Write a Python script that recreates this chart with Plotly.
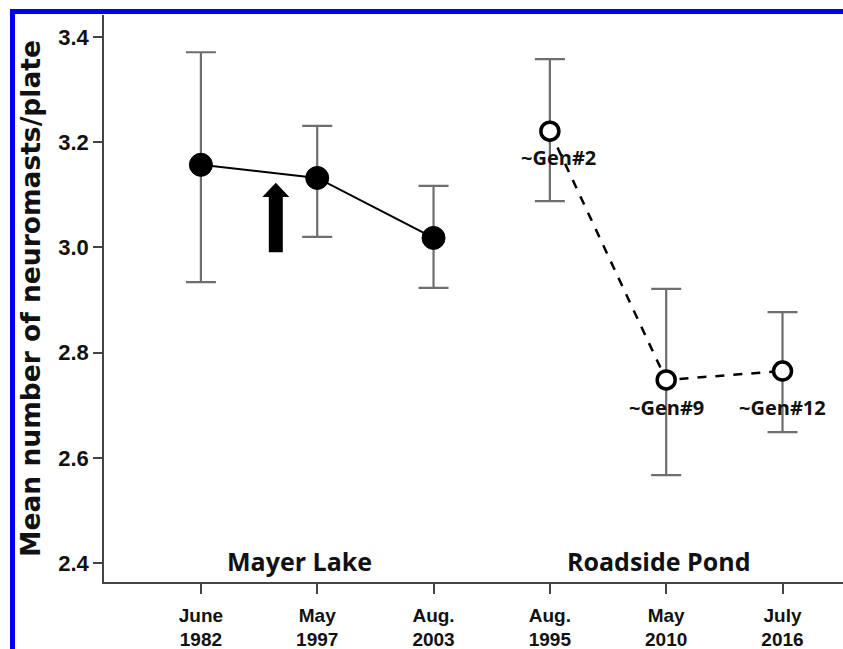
import plotly.graph_objects as go

# ---- data ----
tick_labels = ["June<br>1982", "May<br>1997", "Aug.<br>2003", "Aug.<br>1995", "May<br>2010", "July<br>2016"]
mayer_x = [0, 1, 2]
mayer_mean = [3.157, 3.132, 3.018]
mayer_upper = [3.371, 3.231, 3.117]
mayer_lower = [2.934, 3.020, 2.923]

pond_x = [3, 4, 5]
pond_mean = [3.221, 2.748, 2.765]
pond_upper = [3.358, 2.921, 2.877]
pond_lower = [3.088, 2.567, 2.649]
pond_gen_labels = ["~Gen#2", "~Gen#9", "~Gen#12"]

group_labels = ["Mayer Lake", "Roadside Pond"]
y_ticks = [2.4, 2.6, 2.8, 3.0, 3.2, 3.4]

def err(mean, up, lo):
    return [u - m for m, u in zip(mean, up)], [m - l for m, l in zip(mean, lo)]

fig = go.Figure()

mp, mm = err(mayer_mean, mayer_upper, mayer_lower)
fig.add_trace(go.Scatter(
    x=mayer_x, y=mayer_mean, mode="lines+markers",
    line=dict(color="black", width=2),
    marker=dict(color="black", size=23, line=dict(color="black", width=1)),
    error_y=dict(type="data", symmetric=False, array=mp, arrayminus=mm,
                 color="#6e6e6e", thickness=2.2, width=15),
    showlegend=False, hoverinfo="skip"))

pp, pm = err(pond_mean, pond_upper, pond_lower)
fig.add_trace(go.Scatter(
    x=pond_x, y=pond_mean, mode="lines+markers",
    line=dict(color="black", width=2.5, dash="dash"),
    marker=dict(color="white", size=18, line=dict(color="black", width=3.5)),
    error_y=dict(type="data", symmetric=False, array=pp, arrayminus=pm,
                 color="#6e6e6e", thickness=2.2, width=15),
    showlegend=False, hoverinfo="skip"))

label_font = dict(family="Open Sans, Lato, sans-serif", size=20, color="#111111", weight=700)
gen_dy = [-0.051, -0.053, -0.07]
gen_dx = [0.07, 0.0, 0.0]
for xv, yv, txt, dx, dy in zip(pond_x, pond_mean, pond_gen_labels, gen_dx, gen_dy):
    fig.add_annotation(x=xv + dx, y=yv + dy, text=txt, showarrow=False,
                       font=label_font, xanchor="center", yanchor="middle")

group_font = dict(family="Open Sans, Lato, sans-serif", size=25, color="#111111", weight=700)
fig.add_annotation(x=0.85, y=2.403, text=group_labels[0], showarrow=False,
                   font=group_font, xanchor="center", yanchor="middle")
fig.add_annotation(x=3.93, y=2.403, text=group_labels[1], showarrow=False,
                   font=group_font, xanchor="center", yanchor="middle")

# thick upward arrow (annotation)
ax_c, a_bot, a_neck, a_tip, sw, hw = 0.644, 2.991, 3.096, 3.123, 0.06, 0.116
path = (f"M {ax_c-sw},{a_bot} L {ax_c+sw},{a_bot} L {ax_c+sw},{a_neck} L {ax_c+hw},{a_neck} "
        f"L {ax_c},{a_tip} L {ax_c-hw},{a_neck} L {ax_c-sw},{a_neck} Z")
fig.add_shape(type="path", path=path, xref="x", yref="y",
              fillcolor="black", line=dict(color="black", width=0))

# blue frame (top and left)
fig.add_shape(type="rect", xref="paper", yref="paper", x0=-0.1272, x1=1.01, y0=1.0018, y1=1.0106,
              fillcolor="#0000ee", line=dict(width=0), layer="above")
fig.add_shape(type="rect", xref="paper", yref="paper", x0=-0.1272, x1=-0.1204, y0=-0.2, y1=1.0106,
              fillcolor="#0000ee", line=dict(width=0), layer="above")

fig.update_layout(
    width=843, height=649,
    margin=dict(l=104, r=0, t=15, b=67),
    paper_bgcolor="white", plot_bgcolor="white",
    xaxis=dict(range=[-0.833, 5.52], tickvals=list(range(6)),
               ticktext=["<b>%s</b>" % t for t in tick_labels],
               showgrid=False, zeroline=False, showline=True, linecolor="#444444", linewidth=1.5,
               ticks="outside", ticklen=10, tickwidth=1.5, tickcolor="#444444",
               ticklabelstandoff=5,
               tickfont=dict(family="Liberation Sans, Arial, sans-serif", size=19, color="#111111"),
               fixedrange=True),
    yaxis=dict(range=[2.3639, 3.4418], tickvals=y_ticks,
               ticktext=["<b>%.1f</b>" % v for v in y_ticks],
               showgrid=False, zeroline=False, showline=True, linecolor="#444444", linewidth=1.5,
               ticks="outside", ticklen=9, tickwidth=1.5, tickcolor="#444444",
               tickfont=dict(family="Liberation Sans, Arial, sans-serif", size=22, color="#111111"),
               title=dict(text="<b>Mean number of neuromasts/plate</b>", standoff=10,
                          font=dict(family="DejaVu Sans, sans-serif", size=26.5, color="#111111")),
               fixedrange=True),
)

fig.write_html("out.html")
